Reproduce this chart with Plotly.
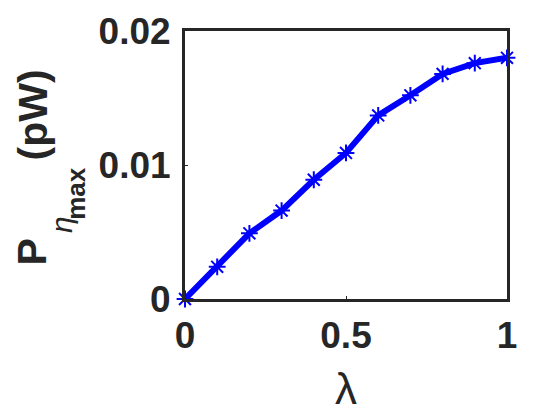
import plotly.graph_objects as go

# lambda values and max-efficiency power (pW)
lam = [0, 0.1, 0.2, 0.3, 0.4, 0.5, 0.6, 0.7, 0.8, 0.9, 1.0]
p_eta_max = [0, 0.0024, 0.0049, 0.0066, 0.0089, 0.0109, 0.0137, 0.0152, 0.0168, 0.0176, 0.0180]

x_ticks = [0, 0.5, 1]
x_ticktext = ["0", "0.5", "1"]
y_ticks = [0, 0.01, 0.02]
y_ticktext = ["0", "0.01", "0.02"]

axis_col = "#262626"
fam = "Liberation Sans, Arial"
tick_font = dict(family=fam, size=37, color=axis_col, weight="bold")

fig = go.Figure()
fig.add_trace(go.Scatter(
    x=lam, y=p_eta_max,
    mode="lines+markers",
    line=dict(color="#0000ff", width=6),
    marker=dict(symbol="asterisk-open", size=14, color="#0000ff",
                line=dict(color="#0000ff", width=2)),
    cliponaxis=False,
    showlegend=False,
))

# y label built from pieces: P, eta, max (sub-sub), (pW)
label_parts = [
    ("<b>P</b>", -0.474, 0.175, 41),
    ("<i>η</i>", -0.385, 0.276, 30),
    ("<b>max</b>", -0.341, 0.393, 26),
    ("<b>(pW)</b>", -0.472, 0.685, 41),
]
annots = []
for txt, ax, ay, sz in label_parts:
    annots.append(dict(
        text=txt, xref="paper", yref="paper", x=ax, y=ay,
        xanchor="center", yanchor="middle", textangle=-90, showarrow=False,
        font=dict(family=fam, size=sz, color=axis_col),
    ))

# page body adds 8px offset, margins compensate for that
fig.update_layout(
    width=560, height=420,
    margin=dict(l=177, r=61, t=23, b=129),
    paper_bgcolor="white", plot_bgcolor="white",
    xaxis=dict(range=[0, 1], tickvals=x_ticks, ticktext=x_ticktext, automargin=False,
               showgrid=False, zeroline=False, showline=True, mirror=True,
               linecolor=axis_col, linewidth=3, ticks="inside", ticklen=3,
               tickcolor=axis_col, tickfont=tick_font, ticklabelstandoff=2,
               title=dict(text="λ", font=dict(family=fam, size=44, color=axis_col),
                          standoff=18)),
    yaxis=dict(range=[0, 0.02], tickvals=y_ticks, ticktext=y_ticktext, automargin=False,
               showgrid=False, zeroline=False, showline=True, mirror=True,
               linecolor=axis_col, linewidth=3, ticks="inside", ticklen=3,
               tickcolor=axis_col, tickfont=tick_font, ticklabelstandoff=4),
    annotations=annots,
)

fig.write_html("out.html")
